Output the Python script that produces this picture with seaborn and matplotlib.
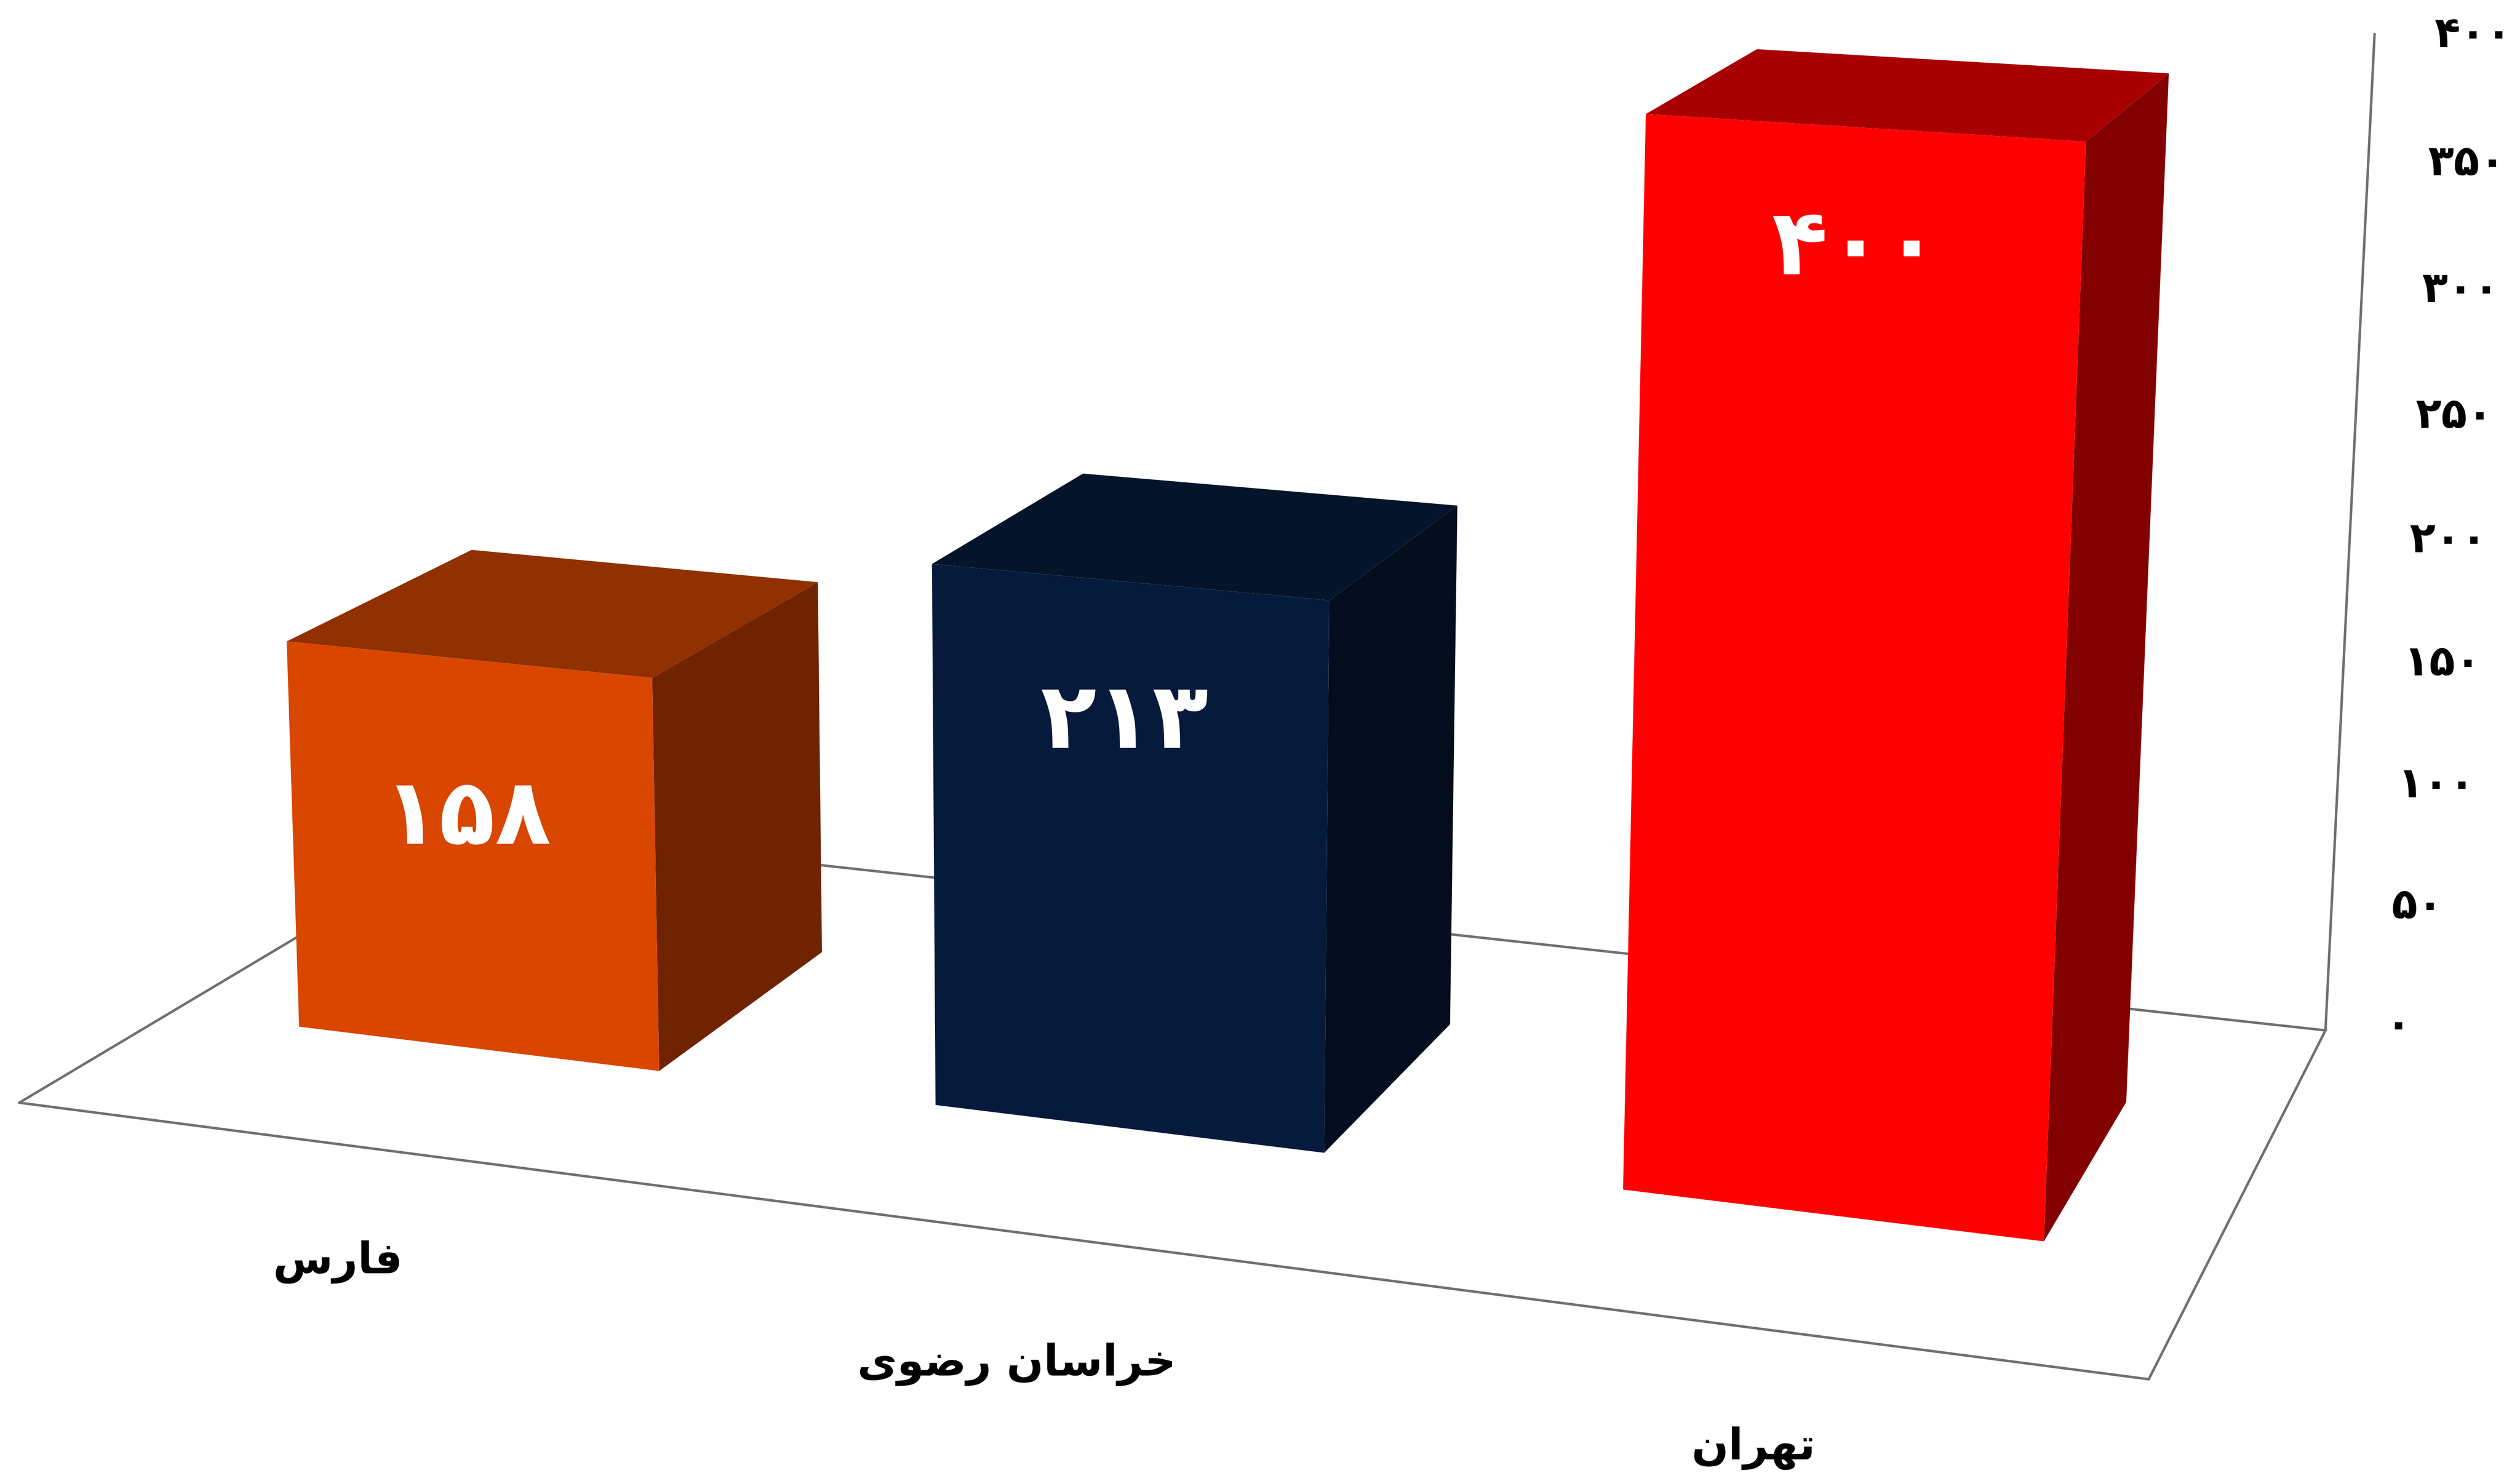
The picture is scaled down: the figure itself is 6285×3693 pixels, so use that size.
import numpy as np
import pandas as pd
import matplotlib
matplotlib.use("Agg")
import matplotlib.pyplot as plt
from matplotlib.patches import Rectangle
from matplotlib.transforms import Transform
import seaborn as sns

# Data
categories = ["فارس", "خراسان رضوی", "تهران"]
values = [158, 213, 400]
tick_values = [0, 50, 100, 150, 200, 250, 300, 350, 400]

# Face colours of each box
front_colors = ["#D94600", "#061B3B", "#FF0000"]
top_colors = ["#913000", "#04142A", "#A80000"]
side_colors = ["#702300", "#030D1E", "#830000"]

W, H = 6285, 3693
SCALE = W / 1568
BAR_WIDTH = 0.575
DEPTH_FRONT, DEPTH_BACK = 0.30, 0.71
X_MIN, X_MAX = -0.495, 2.505
TOP = 400

# Perspective camera: (u, depth, height / TOP, 1) -> image position
CAMERA = np.array([
    [1169.9, 336.4, -27.5, 12.0],
    [72.5, -85.9, -648.0, 686.0],
    [-0.116, 0.1653, -0.0402, 1.0],
])


class Plane(Transform):
    """Sends a flat 2D plane of the box world to the picture."""
    input_dims = 2
    output_dims = 2
    is_affine = False

    def __init__(self, to_world):
        super().__init__()
        self.to_world = to_world

    def transform_non_affine(self, values):
        values = np.asarray(values, dtype=float)
        x, d, h = self.to_world(values[:, 0], values[:, 1])
        u = (x - X_MIN) / (X_MAX - X_MIN)
        world = np.column_stack([u, d, h / TOP, np.ones(len(u))])
        p = world @ CAMERA.T
        px = p[:, 0] / p[:, 2] * SCALE
        py = H - p[:, 1] / p[:, 2] * SCALE
        return np.column_stack([px, py])


def upright(depth):
    # x along the front, y is height, at a fixed depth
    return Plane(lambda a, b: (a, np.full_like(a, depth), b))


def flat(height):
    # x along the front, y is depth, at a fixed height
    return Plane(lambda a, b: (a, b, np.full_like(a, height)))


def side(x_pos):
    # x is depth, y is height, at a fixed x
    return Plane(lambda a, b: (np.full_like(a, x_pos), a, b))


# matplotlib does no Arabic shaping, so pick the joined forms by hand
FORMS = {
    "ف": "\uFED1\uFED2\uFED3\uFED4",
    "ا": "\uFE8D\uFE8E\uFE8D\uFE8E",
    "ر": "\uFEAD\uFEAE\uFEAD\uFEAE",
    "س": "\uFEB1\uFEB2\uFEB3\uFEB4",
    "خ": "\uFEA5\uFEA6\uFEA7\uFEA8",
    "ن": "\uFEE5\uFEE6\uFEE7\uFEE8",
    "ض": "\uFEBD\uFEBE\uFEBF\uFEC0",
    "و": "\uFEED\uFEEE\uFEED\uFEEE",
    "ی": "\uFBFC\uFBFD\uFBFE\uFBFF",
    "ت": "\uFE95\uFE96\uFE97\uFE98",
    "ه": "\uFEE9\uFEEA\uFEEB\uFEEC",
}
NO_LEFT_JOIN = "ارو"


def shape(text):
    out = []
    for i, ch in enumerate(text):
        if ch not in FORMS:
            out.append(ch)
            continue
        prev_joins = i > 0 and text[i - 1] in FORMS and text[i - 1] not in NO_LEFT_JOIN
        next_joins = i + 1 < len(text) and text[i + 1] in FORMS and ch not in NO_LEFT_JOIN
        out.append(FORMS[ch][int(prev_joins) + 2 * int(next_joins)])
    return "".join(reversed(out))


def persian_digits(n):
    return str(n).translate(str.maketrans("0123456789", "۰۱۲۳۴۵۶۷۸۹"))


sns.set_theme(style="white")
plt.rcParams["font.family"] = ["DejaVu Sans"]

df = pd.DataFrame({"region": categories, "count": values})

fig = plt.figure(figsize=(W / 100, H / 100), dpi=100)
ax = fig.add_axes([0, 0, 1, 1])
sns.barplot(data=df, x="region", y="count", hue="region", order=categories,
            hue_order=categories, palette=front_colors, saturation=1, width=BAR_WIDTH,
            linewidth=0, legend=False, ax=ax)
ax.set_xlim(X_MIN, X_MAX)
ax.set_ylim(0, TOP)
ax.axis("off")

# Floor and the back corner post
line_style = dict(color="#707070", lw=4.5, zorder=1, clip_on=False, solid_joinstyle="miter")
ax.plot([X_MIN, X_MAX, X_MAX, X_MIN, X_MIN], [0, 0, 1, 1, 0], transform=flat(0), **line_style)
ax.plot([X_MAX, X_MAX], [0, TOP * 1.005], transform=upright(1.0), **line_style)

# Turn each seaborn bar into the front of a box, then add its top and side
for bar in list(ax.patches):
    left, width, value = bar.get_x(), bar.get_width(), bar.get_height()
    i = int(round(left + width / 2))
    bar.set_transform(upright(DEPTH_FRONT))
    bar.set_clip_on(False)
    bar.set_zorder(4)
    ax.add_patch(Rectangle((left, DEPTH_FRONT), width, DEPTH_BACK - DEPTH_FRONT,
                           transform=flat(value), color=top_colors[i], lw=0,
                           zorder=3, clip_on=False))
    ax.add_patch(Rectangle((DEPTH_FRONT, 0), DEPTH_BACK - DEPTH_FRONT, value,
                           transform=side(left + width), color=side_colors[i], lw=0,
                           zorder=3, clip_on=False))

# Value labels on the front faces
label_drop = [64, 54, 43]
for i, value in enumerate(values):
    ax.annotate(persian_digits(value), xy=(i, value - label_drop[i]),
                xycoords=upright(DEPTH_FRONT), xytext=(-10, 0), textcoords="offset pixels",
                color="white", fontsize=165, fontweight="bold", ha="center", va="center",
                zorder=6, annotation_clip=False)

# Category labels in front of the floor
label_gap = [295, 330, 300]
for i, name in enumerate(categories):
    ax.annotate(shape(name), xy=(i, 0), xycoords=flat(0), xytext=(4, -label_gap[i]),
                textcoords="offset pixels", color="black", fontsize=78,
                fontweight="bold", ha="center", va="center", annotation_clip=False)

# Tick labels beside the corner post
for t in tick_values:
    ax.annotate(persian_digits(t), xy=(X_MAX, t), xycoords=upright(1.0), xytext=(150, 10),
                textcoords="offset pixels", color="black", fontsize=76,
                fontweight="bold", ha="left", va="center", annotation_clip=False)

fig.savefig("out.png", dpi=100, facecolor="white")
